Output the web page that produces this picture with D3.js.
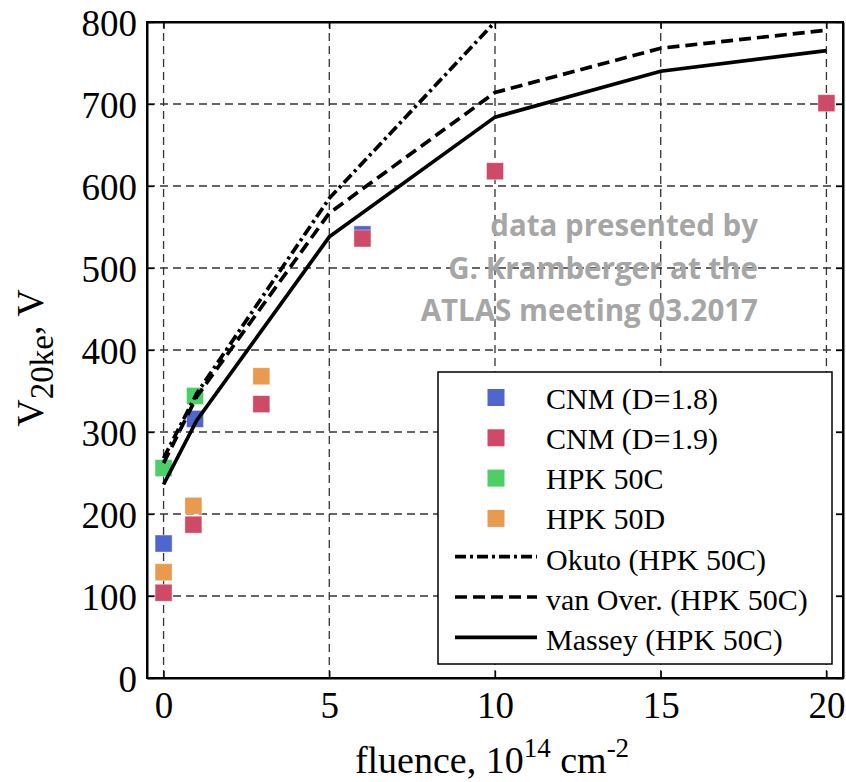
<!DOCTYPE html>
<html lang="en">
<head>
    <meta charset="utf-8">
    <title>V20ke vs fluence</title>
    <script type="text/javascript" src="https://cdnjs.cloudflare.com/ajax/libs/d3/7.8.5/d3.min.js"></script>
    <style>
      body { margin: 0; background: #fff; }
      text { font-family: "Liberation Serif", "Times New Roman", serif; }
    </style>
</head>
<body>
    <script type="text/javascript">
    // measured points (fluence in 1e14 cm^-2, voltage in V)
    var cnm18X = [0, 0.95, 6],
        cnm18Y = [164, 316, 541];
    var cnm19X = [0, 0.9, 2.95, 6, 10, 20],
        cnm19Y = [104, 187, 334, 536, 618, 701];
    var hpkCX = [0, 0.95],
        hpkCY = [256, 344];
    var hpkDX = [0, 0.9, 2.95],
        hpkDY = [129, 210, 368];

    // model curves
    var okutoX = [0, 1, 5, 10],
        okutoY = [268, 347, 585, 800];
    var vanOverX = [0, 1, 5, 10, 15, 20],
        vanOverY = [262, 343, 567, 714, 768, 790];
    var masseyX = [0, 1, 5, 10, 15, 20],
        masseyY = [236, 314, 538, 684, 740, 765];

    var xTicks = [0, 5, 10, 15, 20],
        yTicks = [0, 100, 200, 300, 400, 500, 600, 700, 800];

    var width = 846, height = 782;
    var margin = {top: 22, right: 3, bottom: 104, left: 147};

    var xScale = d3.scaleLinear().domain([-0.5, 20.5])
                   .range([margin.left, width - margin.right]);
    var yScale = d3.scaleLinear().domain([0, 800])
                   .range([height - margin.bottom, margin.top]);

    var svg = d3.select("body").append("svg")
                .attr("width", width)
                .attr("height", height);

    svg.append("clipPath").attr("id", "plotclip")
       .append("rect")
       .attr("x", margin.left).attr("y", margin.top)
       .attr("width", width - margin.left - margin.right)
       .attr("height", height - margin.top - margin.bottom);

    //grid lines
    var grid = svg.append("g").attr("class", "grid");
    grid.selectAll("line.gx").data(xTicks).enter().append("line")
        .attr("x1", function(d) { return xScale(d); })
        .attr("x2", function(d) { return xScale(d); })
        .attr("y1", yScale.range()[0]).attr("y2", yScale.range()[1]);
    grid.selectAll("line.gy").data(yTicks).enter().append("line")
        .attr("x1", xScale.range()[0]).attr("x2", xScale.range()[1])
        .attr("y1", function(d) { return yScale(d); })
        .attr("y2", function(d) { return yScale(d); });
    grid.selectAll("line")
        .attr("stroke", "#333")
        .attr("stroke-width", 1.3)
        .attr("stroke-dasharray", "8,5");

    //axes with inner ticks
    var xAxis = svg.append("g")
       .attr("transform", "translate(0," + yScale(0) + ")")
       .call(d3.axisBottom(xScale).tickValues(xTicks).tickSizeInner(-7).tickSizeOuter(0).tickPadding(14));
    var yAxis = svg.append("g")
       .attr("transform", "translate(" + margin.left + ",0)")
       .call(d3.axisLeft(yScale).tickValues(yTicks).tickSizeInner(-7).tickSizeOuter(0).tickPadding(10));
    svg.append("g")
       .attr("transform", "translate(" + xScale.range()[1] + ",0)")
       .call(d3.axisRight(yScale).tickValues(yTicks).tickSizeInner(-7).tickSizeOuter(0).tickFormat(""));
    svg.append("g")
       .attr("transform", "translate(0," + margin.top + ")")
       .call(d3.axisTop(xScale).tickValues(xTicks).tickSizeInner(-7).tickSizeOuter(0).tickFormat(""));

    svg.selectAll(".domain").attr("stroke", "#000").attr("stroke-width", 2);
    svg.selectAll(".tick line").attr("stroke", "#000").attr("stroke-width", 1.3);
    xAxis.selectAll("text").attr("font-size", 37).attr("fill", "#000");
    yAxis.selectAll("text").attr("font-size", 37).attr("fill", "#000").attr("dy", "0.36em");

    //watermark style note
    var note = ["data presented by", "G. Kramberger at the", "ATLAS meeting 03.2017"];
    svg.append("g").selectAll("text").data(note).enter().append("text")
       .attr("x", 758)
       .attr("y", function(d, i) { return 236 + i * 42.5; })
       .attr("text-anchor", "end")
       .style("font-family", "'Open Sans', sans-serif")
       .attr("font-weight", "bold")
       .attr("font-size", 29.5)
       .attr("fill", "#a6a6a6")
       .text(function(d) { return d; });

    //model lines
    var models = [
      {name: "Okuto (HPK 50C)", x: okutoX, y: okutoY, dash: "11,4,3,4"},
      {name: "van Over. (HPK 50C)", x: vanOverX, y: vanOverY, dash: "12,6"},
      {name: "Massey (HPK 50C)", x: masseyX, y: masseyY, dash: null}
    ];
    var line = d3.line()
        .x(function(d) { return xScale(d[0]); })
        .y(function(d) { return yScale(d[1]); });

    //scatter series
    var series = [
      {name: "CNM (D=1.8)", x: cnm18X, y: cnm18Y, color: "#4f66d1"},
      {name: "CNM (D=1.9)", x: cnm19X, y: cnm19Y, color: "#cf4a66"},
      {name: "HPK 50C", x: hpkCX, y: hpkCY, color: "#4ccf66"},
      {name: "HPK 50D", x: hpkDX, y: hpkDY, color: "#e89a4e"}
    ];
    var ms = 17;

    var plot = svg.append("g").attr("clip-path", "url(#plotclip)");
    series.forEach(function(s) {
      plot.append("g").selectAll("rect")
          .data(d3.zip(s.x, s.y)).enter().append("rect")
          .attr("x", function(d) { return xScale(d[0]) - ms / 2; })
          .attr("y", function(d) { return yScale(d[1]) - ms / 2; })
          .attr("width", ms).attr("height", ms)
          .attr("fill", s.color)
          .attr("stroke", "#fff").attr("stroke-opacity", 0.5).attr("stroke-width", 0.8);
    });
    models.forEach(function(m) {
      plot.append("path")
          .datum(d3.zip(m.x, m.y))
          .attr("d", line)
          .attr("fill", "none")
          .attr("stroke", "#000")
          .attr("stroke-width", 3.7)
          .attr("stroke-dasharray", m.dash);
    });

    //redraw frame on top
    svg.append("rect")
       .attr("x", xScale.range()[0]).attr("y", yScale.range()[1])
       .attr("width", xScale.range()[1] - xScale.range()[0])
       .attr("height", yScale.range()[0] - yScale.range()[1])
       .attr("fill", "none").attr("stroke", "#000").attr("stroke-width", 2);

    //legend
    var lg = svg.append("g").attr("transform", "translate(438,372)");
    lg.append("rect").attr("width", 394).attr("height", 292)
      .attr("fill", "#fff").attr("stroke", "#000").attr("stroke-width", 1.5);
    var rowH = 40.3, row0 = 25.5;
    series.forEach(function(s, i) {
      lg.append("rect")
        .attr("x", 58 - ms / 2).attr("y", row0 + i * rowH - ms / 2)
        .attr("width", ms).attr("height", ms)
        .attr("fill", s.color);
      lg.append("text")
        .attr("x", 108).attr("y", row0 + i * rowH + 11)
        .attr("font-size", 30).text(s.name);
    });
    models.forEach(function(m, j) {
      var i = j + 4;
      lg.append("line")
        .attr("x1", 17).attr("x2", 99)
        .attr("y1", row0 + i * rowH - 2).attr("y2", row0 + i * rowH - 2)
        .attr("stroke", "#000").attr("stroke-width", 3.7)
        .attr("stroke-dasharray", m.dash);
      lg.append("text")
        .attr("x", 108).attr("y", row0 + i * rowH + 11)
        .attr("font-size", 30).text(m.name);
    });

    //x axis title
    var xt = svg.append("text")
       .attr("x", 492).attr("y", 773)
       .attr("text-anchor", "middle")
       .attr("font-size", 38);
    xt.append("tspan").text("fluence, 10");
    xt.append("tspan").attr("dy", -16).attr("font-size", 27).text("14");
    xt.append("tspan").attr("dy", 16).text(" cm");
    xt.append("tspan").attr("dy", -16).attr("font-size", 27).text("-2");

    //y axis title
    var yt = svg.append("text")
       .attr("transform", "translate(43,358) rotate(-90)")
       .attr("text-anchor", "middle")
       .attr("font-size", 38);
    yt.append("tspan").text("V");
    yt.append("tspan").attr("dy", 10).attr("font-size", 33).text("20ke");
    yt.append("tspan").attr("dy", -13).text(",");
    yt.append("tspan").attr("dy", 3).text(" V");
    </script>
</body>
</html>
